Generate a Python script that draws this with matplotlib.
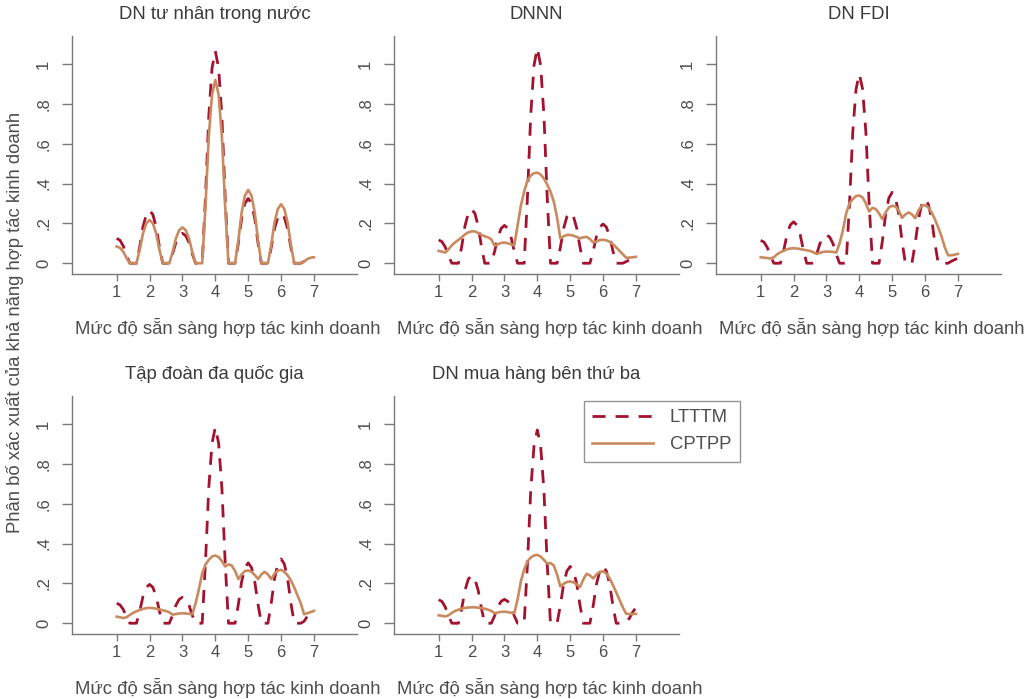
import numpy as np
import matplotlib
matplotlib.use("Agg")
import matplotlib.pyplot as plt

plt.rcParams['font.family'] = ['Liberation Sans', 'DejaVu Sans']

# density at x = 1.0, 1.1, ..., 7.0
grid = np.linspace(1, 7, 61)

titles = ["DN tư nhân trong nước", "DNNN", "DN FDI",
          "Tập đoàn đa quốc gia", "DN mua hàng bên thứ ba"]

ltttm_tn = [.125, .115, .086, .039, 0, 0, 0, .082, .183, .244, .265, .244, .183, .082, 0, 0, 0,
            .047, .104, .138, .15, .138, .104, .047, 0, 0, 0, .33, .735, .98, 1.065, .98, .735, .33,
            0, 0, 0, .10, .224, .30, .325, .30, .224, .10, 0, 0, 0, .078, .173, .23, .25, .23, .173,
            .078, 0, 0, 0, .009, .021, .028, .03]
cptpp_tn = [.084, .077, .058, .026, 0, 0, 0, .067, .15, .20, .217, .20, .15, .067, 0, 0, 0,
            .056, .124, .166, .18, .166, .124, .056, 0, 0, 0, .285, .635, .846, .92, .846, .635, .285,
            0, 0, 0, .114, .254, .339, .368, .339, .254, .114, 0, 0, 0, .092, .204, .272, .296, .272,
            .204, .092, 0, 0, 0, .009, .021, .028, .03]

ltttm_dnnn = [.117, .108, .081, .036, 0, 0, 0, .084, .188, .25, .272, .25, .188, .084, 0, 0, 0,
              .059, .131, .175, .19, .175, .131, .059, 0, 0, 0, .335, .745, .994, 1.08, .994, .745, .335,
              0, 0, 0, .079, .175, .234, .254, .234, .175, .079, 0, 0, 0, .061, .136, .181, .197, .181,
              .136, .061, 0, 0, 0, .008, .017, .023, .025]
cptpp_dnnn = [.062, .058, .054, .070, .090, .105, .117, .130, .145, .155, .160, .160, .152, .143,
              .135, .130, .120, .088, .095, .102, .104, .100, .095, .090, .190, .290, .360, .415,
              .440, .452, .455, .445, .425, .395, .360, .310, .230, .125, .135, .142, .142, .138,
              .132, .125, .130, .132, .122, .104, .110, .116, .118, .115, .108, .095, .080, .062,
              .045, .028, .028, .030, .032]

ltttm_fdi = [.115, .106, .079, .036, 0, 0, 0, .064, .144, .192, .208, .192, .144, .064, 0, 0, 0,
             .044, .098, .131, .142, .131, .098, .044, 0, 0, 0, .295, .656, .874, .95, .874, .656, .295,
             0, 0, 0, .11, .246, .328, .356, .328, .246, .11, 0, 0, 0, .10, .222, .296, .322, .296,
             .222, .10, 0, 0, 0, 0, .01, .018, .025]
cptpp_fdi = [.030, .028, .026, .024, .030, .045, .055, .063, .070, .074, .075, .074, .071, .068,
             .065, .062, .055, .047, .052, .057, .059, .058, .057, .054, .100, .165, .250, .300,
             .322, .337, .340, .330, .300, .260, .278, .272, .250, .222, .255, .280, .288, .285,
             .265, .228, .245, .255, .245, .226, .265, .288, .292, .280, .255, .220, .180, .135,
             .080, .040, .040, .043, .047]

ltttm_tdqg = [.10, .092, .069, .031, 0, 0, 0, .06, .135, .18, .195, .18, .135, .06, 0, 0, 0,
              .04, .09, .12, .13, .12, .09, .04, 0, 0, 0, .305, .678, .904, .983, .904, .678, .305,
              0, 0, 0, .094, .209, .279, .303, .279, .209, .094, 0, 0, 0, .10, .223, .297, .323, .297,
              .223, .10, 0, 0, 0, .01, .035, .055, .067]
cptpp_tdqg = [.033, .030, .026, .030, .042, .052, .060, .066, .072, .076, .077, .076, .073, .069,
              .065, .061, .055, .043, .046, .049, .050, .049, .047, .045, .100, .170, .250, .295,
              .318, .335, .340, .332, .312, .285, .295, .290, .262, .222, .245, .262, .265, .258,
              .242, .222, .245, .258, .245, .222, .248, .264, .268, .258, .240, .215, .180, .140,
              .100, .045, .050, .056, .062]

ltttm_mh = [.118, .109, .081, .037, 0, 0, 0, .074, .166, .221, .24, .221, .166, .074, 0, 0, 0,
            .037, .083, .11, .12, .11, .083, .037, 0, 0, 0, .30, .669, .892, .97, .892, .669, .30,
            0, 0, 0, .088, .197, .262, .285, .262, .197, .088, 0, 0, 0, .088, .197, .262, .285, .262,
            .197, .088, 0, 0, 0, .005, .025, .055, .08]
cptpp_mh = [.040, .037, .034, .040, .052, .062, .068, .073, .077, .079, .080, .080, .078, .076,
            .073, .068, .062, .050, .054, .057, .058, .056, .053, .050, .120, .210, .270, .310,
            .330, .340, .343, .335, .318, .300, .302, .290, .245, .185, .198, .207, .210, .205,
            .195, .182, .220, .248, .240, .225, .245, .258, .260, .250, .225, .192, .155, .118,
            .080, .048, .046, .046, .047]

ltttm = [ltttm_tn, ltttm_dnnn, ltttm_fdi, ltttm_tdqg, ltttm_mh]
cptpp = [cptpp_tn, cptpp_dnnn, cptpp_fdi, cptpp_tdqg, cptpp_mh]

red = "#a3122f"
tan = "#c98a60"
axcol = "#7a7a7a"
txtcol = "#4d4d4d"

W, H = 1032, 699
fig = plt.figure(figsize=(W / 100, H / 100), dpi=100)

lefts = [72, 394, 716, 72, 394]
bottoms = [274, 274, 274, 634, 634]
aw, ah = 285, 238.3

for i in range(5):
    ax = fig.add_axes([lefts[i] / W, 1 - bottoms[i] / H, aw / W, ah / H])
    l1, = ax.plot(grid, ltttm[i], color=red, lw=2.0, ls=(0, (4.7, 3.6)), label="LTTTM")
    l2, = ax.plot(grid, cptpp[i], color=tan, lw=1.9, label="CPTPP")
    ax.set_xlim(-0.36, 8.31)
    ax.set_ylim(-0.054, 1.142)
    ax.set_xticks(range(1, 8))
    ax.set_yticks([0, .2, .4, .6, .8, 1])
    ax.set_yticklabels(["0", ".2", ".4", ".6", ".8", "1"], rotation=90, va="center")
    for s in ["top", "right"]:
        ax.spines[s].set_visible(False)
    for s in ["left", "bottom"]:
        ax.spines[s].set_color(axcol)
        ax.spines[s].set_linewidth(1.0)
    ax.tick_params(axis="y", length=7, width=1, color=axcol, labelcolor=txtcol, labelsize=12, pad=8)
    ax.tick_params(axis="x", length=5, width=1, color=axcol, labelcolor=txtcol, labelsize=12, pad=3)
    ax.set_title(titles[i], fontsize=13.3, color="#3a3a3a", pad=12)
    ax.text(0.547, -0.228, "Mức độ sẵn sàng hợp tác kinh doanh", transform=ax.transAxes,
            ha="center", va="center", fontsize=13.3, color=txtcol)

fig.text(15 / W, 1 - 322 / H, "Phân bố xác xuất của khả năng hợp tác kinh doanh",
         rotation=90, ha="center", va="center", fontsize=13.3, color=txtcol)

leg = fig.legend([l1, l2], ["LTTTM", "CPTPP"], loc="upper left",
                 bbox_to_anchor=(584 / W, 1 - 401 / H), fontsize=13.3, frameon=True,
                 fancybox=False, edgecolor=axcol, handlelength=3.3, handletextpad=0.9,
                 labelspacing=0.55, borderpad=0.45, borderaxespad=0)
leg.get_frame().set_linewidth(1.0)
for t in leg.get_texts():
    t.set_color(txtcol)

fig.savefig("out.png", dpi=100)
